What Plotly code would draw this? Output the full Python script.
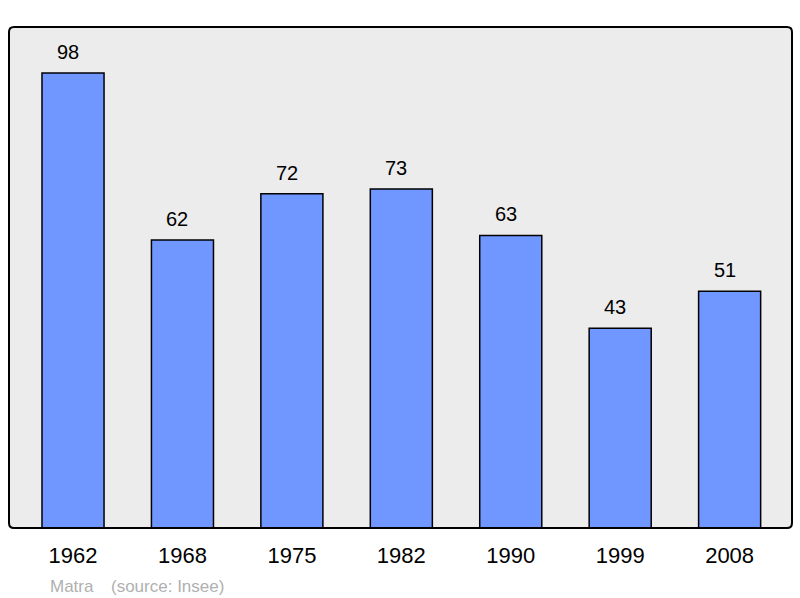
import plotly.graph_objects as go

years = ["1962", "1968", "1975", "1982", "1990", "1999", "2008"]
population = [98, 62, 72, 73, 63, 43, 51]
commune = "Matra"
source = "(source: Insee)"

W, H = 800, 598
L, R, T, B = 9, 8, 27, 70
pw, ph = W - L - R, H - T - B
FONT = "Liberation Sans, Arial, sans-serif"

fig = go.Figure()
fig.add_trace(go.Bar(
    x=list(range(len(years))), y=population,
    width=0.567,
    marker=dict(color="#7097ff", line=dict(color="#000000", width=1.5)),
    hoverinfo="skip",
))

for i, v in enumerate(population):
    fig.add_annotation(x=i, y=v, text=str(v), showarrow=False,
                       yanchor="bottom", yshift=8, xshift=-5,
                       font=dict(family=FONT, size=20, color="#000000"))

# rounded frame
r = 5
rx, ry = r / pw, r / ph
path = (f"M {rx},0 L {1-rx},0 Q 1,0 1,{ry} L 1,{1-ry} Q 1,1 {1-rx},1 "
        f"L {rx},1 Q 0,1 0,{1-ry} L 0,{ry} Q 0,0 {rx},0 Z")
fig.add_shape(type="path", path=path, xref="paper", yref="paper",
              line=dict(color="#000000", width=2), layer="above")

sy = -(586 - (T + ph)) / ph
fig.add_annotation(x=(48 - L) / pw, y=sy, xref="paper", yref="paper",
                   text=commune, showarrow=False, xanchor="left", yanchor="middle",
                   font=dict(family=FONT, size=17, color="#b0b0b0"))
fig.add_annotation(x=(109 - L) / pw, y=sy, xref="paper", yref="paper",
                   text=source, showarrow=False, xanchor="left", yanchor="middle",
                   font=dict(family=FONT, size=17, color="#b0b0b0"))

fig.update_layout(
    width=W, height=H,
    margin=dict(l=L, r=R, t=T, b=B),
    paper_bgcolor="#ffffff", plot_bgcolor="#ececec",
    showlegend=False,
    xaxis=dict(range=[-0.585, 6.57], tickmode="array",
               tickvals=list(range(len(years))), ticktext=years,
               showgrid=False, zeroline=False, showline=False,
               ticks="outside", ticklen=8, tickcolor="rgba(0,0,0,0)",
               tickfont=dict(family=FONT, size=22, color="#000000")),
    yaxis=dict(range=[0, 107.9], showgrid=False, zeroline=False,
               showticklabels=False, showline=False),
)

fig.write_html("out.html", config={"displayModeBar": False},
               post_script="document.body.style.margin='0px';document.body.style.overflow='hidden';")
